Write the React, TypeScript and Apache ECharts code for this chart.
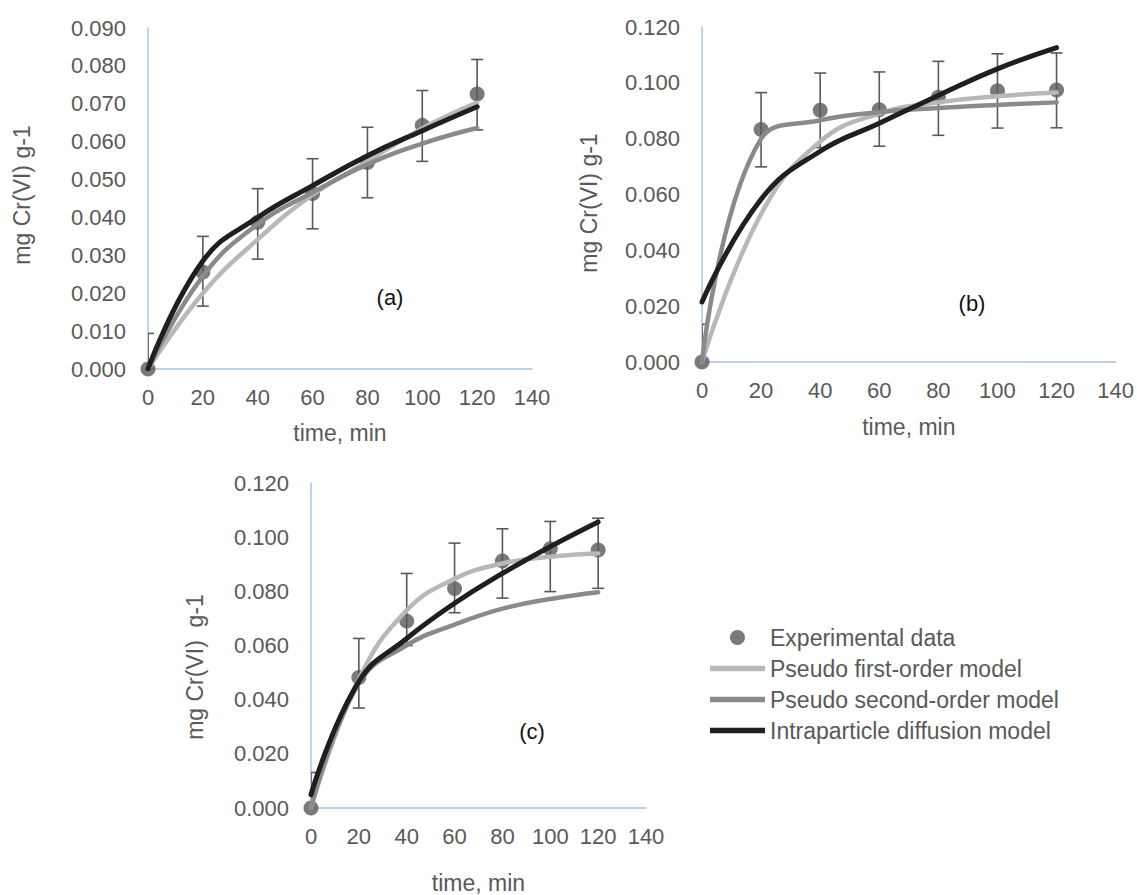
import React, { useEffect, useRef } from "react";
import * as echarts from "echarts";

// ---- data ----
const timeValues = [0, 20, 40, 60, 80, 100, 120];
const xTicks = [0, 20, 40, 60, 80, 100, 120, 140];
const legendNames = [
  "Experimental data",
  "Pseudo first-order model",
  "Pseudo second-order model",
  "Intraparticle diffusion model",
];
const panelLabels = ["(a)", "(b)", "(c)"];
const yTitles = ["mg Cr(VI) g-1", "mg Cr(VI) g-1", "mg Cr(VI)  g-1"];
const xTitle = "time, min";

// panel (a)
const expA = [0, 0.0256, 0.0387, 0.0463, 0.0545, 0.0643, 0.0726];
const errPlusA = [0.0094, 0.0094, 0.0089, 0.0092, 0.0093, 0.0092, 0.0091];
const errMinusA = [0.0094, 0.009, 0.0097, 0.0093, 0.0093, 0.0095, 0.0095];
const pfoA = [0, 0.02, 0.0342, 0.046, 0.0548, 0.0635, 0.0703];
const psoA = [0, 0.0245, 0.0382, 0.0466, 0.054, 0.0595, 0.0636];
const ipdA = [0, 0.0285, 0.04, 0.0484, 0.0563, 0.0629, 0.0692];

// panel (b)
const expB = [0, 0.0833, 0.0902, 0.0904, 0.0948, 0.0972, 0.0974];
const errPlusB = [0.0135, 0.0132, 0.0133, 0.0135, 0.0129, 0.0132, 0.0133];
const errMinusB = [0.0135, 0.0134, 0.0134, 0.0131, 0.0136, 0.0134, 0.0135];
const pfoB = [0, 0.053, 0.079, 0.089, 0.093, 0.0952, 0.0965];
const psoB = [0, 0.08, 0.0866, 0.0895, 0.091, 0.0921, 0.093];
const ipdB = [0.0215, 0.0583, 0.0755, 0.0855, 0.0955, 0.105, 0.1126];

// panel (c)
const expC = [0, 0.0482, 0.069, 0.081, 0.0912, 0.0957, 0.0953];
const errPlusC = [0.0131, 0.0144, 0.0176, 0.0168, 0.0119, 0.0101, 0.0117];
const errMinusC = [0.0131, 0.0113, 0.009, 0.0089, 0.0137, 0.0158, 0.0142];
const pfoC = [0, 0.0475, 0.073, 0.0846, 0.0903, 0.0928, 0.094];
const psoC = [0, 0.046, 0.0601, 0.0677, 0.0736, 0.0772, 0.0797];
const ipdC = [0.0049, 0.0467, 0.0626, 0.0756, 0.0866, 0.0965, 0.1056];

const yMaxes = [0.09, 0.12, 0.12];
const yIntervals = [0.01, 0.02, 0.02];

const FONT = "'Liberation Sans', Arial, sans-serif";
const TEXT = "#595959";
const AXIS = "#a9c4e6";
const COLORS = ["#595959", "#b8b8b8", "#8a8a8a", "#1f1f1f"];
const LINE_ICON = "path://M0,0L55,0L55,5.5L0,5.5Z";

const panels = [
  { exp: expA, ep: errPlusA, em: errMinusA, pfo: pfoA, pso: psoA, ipd: ipdA },
  { exp: expB, ep: errPlusB, em: errMinusB, pfo: pfoB, pso: psoB, ipd: ipdB },
  { exp: expC, ep: errPlusC, em: errMinusC, pfo: pfoC, pso: psoC, ipd: ipdC },
];

const grids = [
  { left: 148, top: 28, width: 384, height: 341 },
  { left: 702, top: 27, width: 414, height: 335 },
  { left: 311, top: 483, width: 335, height: 328 },
];
const xNameGaps = [52, 53, 63];
const yTitlePos = [
  [22, 195],
  [589, 203],
  [195, 667],
];
const labelPos = [
  [390, 297],
  [972, 303],
  [532, 731],
];

export default function App() {
  const ref = useRef<HTMLDivElement>(null);
  useEffect(() => {
    if (!ref.current) return;
    const chart = echarts.init(ref.current, null, { renderer: "svg" });

    const xAxes: any[] = [];
    const yAxes: any[] = [];
    const series: any[] = [];
    const graphic: any[] = [];

    panels.forEach((p, i) => {
      xAxes.push({
        gridIndex: i,
        type: "value",
        min: xTicks[0],
        max: xTicks[xTicks.length - 1],
        interval: 20,
        name: xTitle,
        nameLocation: "middle",
        nameGap: xNameGaps[i],
        nameTextStyle: { color: TEXT, fontSize: 23, fontFamily: FONT },
        axisLine: { show: true, onZero: false, lineStyle: { color: AXIS, width: 1.5 } },
        axisTick: { show: false },
        splitLine: { show: false },
        axisLabel: { color: TEXT, fontSize: 22, fontFamily: FONT, margin: 17 },
      });
      yAxes.push({
        gridIndex: i,
        type: "value",
        min: 0,
        max: yMaxes[i],
        interval: yIntervals[i],
        axisLine: { show: true, onZero: false, lineStyle: { color: AXIS, width: 1.5 } },
        axisTick: { show: false },
        splitLine: { show: false },
        axisLabel: {
          color: TEXT,
          fontSize: 22,
          fontFamily: FONT,
          margin: 22,
          formatter: (v: number) => v.toFixed(3),
        },
      });

      const errData = timeValues.map((t, k) => [t, p.exp[k] - p.em[k], p.exp[k] + p.ep[k]]);
      series.push({
        type: "custom",
        name: legendNames[0] + " error",
        xAxisIndex: i,
        yAxisIndex: i,
        clip: true,
        silent: true,
        encode: { x: 0, y: [1, 2] },
        data: errData,
        renderItem: (params: any, api: any) => {
          const x = api.value(0);
          const lo = api.value(1);
          const hi = api.value(2);
          const top = api.coord([x, hi]);
          const bot = api.coord([x, Math.max(lo, 0)]);
          const st = { stroke: "#595959", lineWidth: 1.6 };
          const children: any[] = [
            { type: "line", shape: { x1: top[0], y1: top[1], x2: bot[0], y2: bot[1] }, style: st },
            { type: "line", shape: { x1: top[0] - 6, y1: top[1], x2: top[0] + 6, y2: top[1] }, style: st },
          ];
          if (lo >= 0) {
            children.push({
              type: "line",
              shape: { x1: bot[0] - 6, y1: bot[1], x2: bot[0] + 6, y2: bot[1] },
              style: st,
            });
          }
          return { type: "group", children };
        },
      });
      series.push({
        type: "scatter",
        name: legendNames[0],
        xAxisIndex: i,
        yAxisIndex: i,
        clip: false,
        symbol: "circle",
        symbolSize: 15,
        itemStyle: { color: COLORS[0] },
        data: timeValues.map((t, k) => [t, p.exp[k]]),
      });
      const lines = [p.pfo, p.pso, p.ipd];
      lines.forEach((vals, j) => {
        series.push({
          type: "line",
          name: legendNames[j + 1],
          xAxisIndex: i,
          yAxisIndex: i,
          smooth: 0.45,
          symbol: "none",
          showSymbol: false,
          lineStyle: { color: COLORS[j + 1], width: j === 2 ? 5 : 4.5, cap: "round", join: "round" },
          itemStyle: { color: COLORS[j + 1] },
          data: timeValues.map((t, k) => [t, vals[k]]),
        });
      });

      graphic.push({
        type: "text",
        x: yTitlePos[i][0],
        y: yTitlePos[i][1],
        rotation: Math.PI / 2,
        style: {
          text: yTitles[i],
          fill: TEXT,
          font: `23px ${FONT}`,
          align: "center",
          verticalAlign: "middle",
        },
      });
      graphic.push({
        type: "text",
        x: labelPos[i][0],
        y: labelPos[i][1],
        style: {
          text: panelLabels[i],
          fill: "#111111",
          font: `22px ${FONT}`,
          align: "center",
          verticalAlign: "middle",
        },
      });
    });

    chart.setOption({
      animation: false,
      textStyle: { fontFamily: FONT },
      grid: grids.map((g) => ({ ...g, containLabel: false })),
      xAxis: xAxes,
      yAxis: yAxes,
      legend: {
        data: legendNames.map((n, k) => ({
          name: n,
          icon: k === 0 ? "circle" : LINE_ICON,
          itemStyle: { color: COLORS[k] },
        })),
        orient: "vertical",
        left: 710,
        top: 622,
        itemWidth: 55,
        itemHeight: 15,
        itemGap: 0,
        padding: 0,
        selectedMode: false,
        textStyle: { color: TEXT, fontSize: 23, fontFamily: FONT, lineHeight: 31 },
      },
      graphic,
      series,
    });
    return () => chart.dispose();
  }, []);
  return (
    <div
      ref={ref}
      style={{ position: "fixed", left: 0, top: 0, width: 1137, height: 895, background: "#fff" }}
    />
  );
}
